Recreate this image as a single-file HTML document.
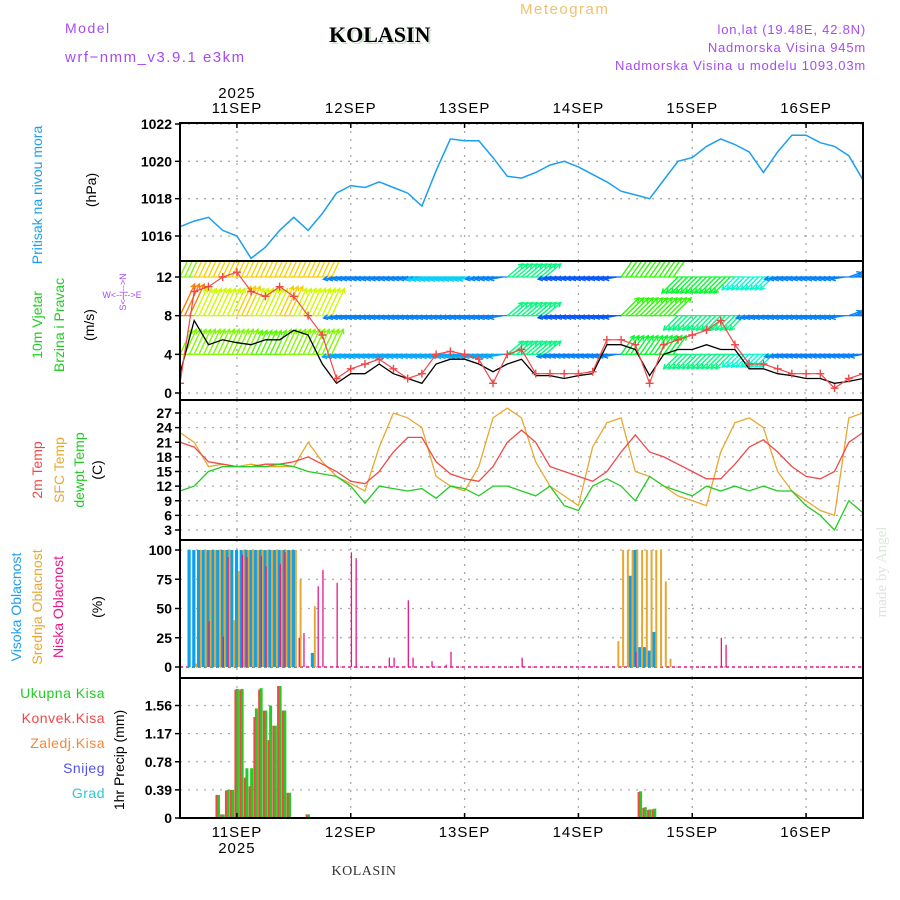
<!DOCTYPE html>
<html><head><meta charset="utf-8"><style>
body{margin:0;background:#fff}
svg{display:block}
text{font-family:"Liberation Sans",sans-serif}
text.serif{font-family:"Liberation Serif",serif}
</style></head><body>
<svg id="chart" width="900" height="900" viewBox="0 0 900 900" xmlns="http://www.w3.org/2000/svg">
<g>
<text x="65" y="33" fill="#a64bf4" font-size="14" letter-spacing="1.5">Model</text>
<text x="65" y="62" fill="#a64bf4" font-size="15" letter-spacing="1.5">wrf−nmm_v3.9.1 e3km</text>
<text class="serif" x="331" y="44" fill="#cfe0cf" font-size="22" font-weight="bold">KOLASIN</text>
<text class="serif" x="329" y="42" fill="#000" font-size="22" font-weight="bold">KOLASIN</text>
<text x="520" y="14" fill="#f0c070" font-size="15" letter-spacing="1.5">Meteogram</text>
<text x="866" y="34" fill="#a64bf4" font-size="13" text-anchor="end" letter-spacing="0.8">lon,lat (19.48E, 42.8N)</text>
<text x="866" y="52" fill="#a64bf4" font-size="13" text-anchor="end" letter-spacing="0.8">Nadmorska Visina 945m</text>
<text x="866" y="70" fill="#a64bf4" font-size="13" text-anchor="end" letter-spacing="0.8">Nadmorska Visina u modelu 1093.03m</text>
</g>
<g>
<text transform="translate(42,195) rotate(-90)" fill="#1a9ff0" font-size="14" text-anchor="middle">Pritisak na nivou mora</text>
<text transform="translate(96,190) rotate(-90)" fill="#000" font-size="14" text-anchor="middle">(hPa)</text>
<text transform="translate(42,325) rotate(-90)" fill="#22cc22" font-size="14" text-anchor="middle">10m Vjetar</text>
<text transform="translate(64,325) rotate(-90)" fill="#22cc22" font-size="14" text-anchor="middle">Brzina i Pravac</text>
<text transform="translate(94,325) rotate(-90)" fill="#000" font-size="14" text-anchor="middle">(m/s)</text>
<text transform="translate(126,292) rotate(-90)" fill="#a64bf4" font-size="9" text-anchor="middle">S&lt;--|--&gt;N</text>
<text x="122" y="298" fill="#a64bf4" font-size="9" text-anchor="middle">W&lt;--|--&gt;E</text>
<text transform="translate(42,470) rotate(-90)" fill="#f04848" font-size="14" text-anchor="middle">2m Temp</text>
<text transform="translate(64,470) rotate(-90)" fill="#e8a830" font-size="14" text-anchor="middle">SFC Temp</text>
<text transform="translate(84,470) rotate(-90)" fill="#22cc22" font-size="14" text-anchor="middle">dewpt Temp</text>
<text transform="translate(102,470) rotate(-90)" fill="#000" font-size="14" text-anchor="middle">(C)</text>
<text transform="translate(21,607) rotate(-90)" fill="#1a9ff0" font-size="14" text-anchor="middle">Visoka Oblacnost</text>
<text transform="translate(42,607) rotate(-90)" fill="#e8a830" font-size="14" text-anchor="middle">Srednja Oblacnost</text>
<text transform="translate(63,607) rotate(-90)" fill="#e8168a" font-size="14" text-anchor="middle">Niska Oblacnost</text>
<text transform="translate(102,607) rotate(-90)" fill="#000" font-size="14" text-anchor="middle">(%)</text>
<text x="105" y="698" fill="#22cc22" font-size="14" text-anchor="end" letter-spacing="0.5">Ukupna  Kisa</text>
<text x="105" y="723" fill="#f04848" font-size="14" text-anchor="end" letter-spacing="0.5">Konvek.Kisa</text>
<text x="105" y="748" fill="#f08838" font-size="14" text-anchor="end" letter-spacing="0.5">Zaledj.Kisa</text>
<text x="105" y="773" fill="#5050f0" font-size="14" text-anchor="end" letter-spacing="0.5">Snijeg</text>
<text x="105" y="798" fill="#30c8d0" font-size="14" text-anchor="end" letter-spacing="0.5">Grad</text>
<text transform="translate(124,760) rotate(-90)" fill="#000" font-size="14" text-anchor="middle">1hr Precip (mm)</text>
<text class="serif" transform="translate(886,572) rotate(-90)" fill="#dde5dd" font-size="15" text-anchor="middle">made by Angel</text>
<text class="serif" x="364" y="875" fill="#333" font-size="14" text-anchor="middle" letter-spacing="0.5">KOLASIN</text>
</g>
<g id="plots"></g>
</svg>
<script>
// ---------- data (3-hourly from 10SEP 12Z) ----------
const dayLabels = ["11SEP","12SEP","13SEP","14SEP","15SEP","16SEP"];
const pressure = [1016.5,1016.8,1017,1016.3,1016,1014.8,1015.4,1016.3,1017,1016.3,1017.2,1018.3,1018.7,1018.6,1018.9,1018.6,1018.3,1017.6,1019.5,1021.2,1021.1,1021.1,1020.2,1019.2,1019.1,1019.4,1019.8,1020,1019.7,1019.3,1018.9,1018.4,1018.2,1018,1019,1020,1020.2,1020.8,1021.2,1020.9,1020.5,1019.4,1020.5,1021.4,1021.4,1021,1020.8,1020.3,1019];
const windSpeed = [2,7.5,5,5.5,5.2,5,5.5,5.5,6.5,6,3,1,2,2,3,2,1.5,1,3,3.5,3.5,3,2.2,3,3.5,1.8,1.8,1.5,1.8,2,5,5,4.5,1.8,4,4.5,4.5,5,4.5,4.5,2.5,2.5,2,1.8,1.5,1.5,1,1.2,1.5];
const windGust = [1,10.5,11,12,12.5,10.5,10,11,10,8,6,1.5,2.5,3,3.5,2.5,1.5,2,4,4.3,4,3.5,1,4,4.5,2,2,2,2,2.2,5.5,5.5,5,1,5,5.5,6,6.5,7.5,5,3,3,2.5,2,2,2,0.5,1.5,2];
const dirL12 = [205,205,205,205,205,205,205,205,205,205,205,80,80,80,80,80,80,80,80,80,80,80,80,230,230,230,80,80,80,80,80,215,215,215,215,45,45,45,45,45,45,45,80,80,80,80,80,250,250];
const spdL12 = [9,11,11,11,11,11,11,11,11,11,11,3,3,3,3,3,3,4,4,4,4,3,3,6,6,6,2.5,2.5,2.5,2.5,2.5,8,8,8,8,7,7,7,7,5,5,5,3,3,3,3,3,3,3];
const dirL8 = [205,205,205,205,205,205,205,205,205,205,205,80,80,80,80,80,80,80,80,80,80,80,80,230,230,230,80,80,80,80,80,225,225,225,225,45,45,45,45,45,80,80,80,80,80,80,80,250,250];
const spdL8 = [12,10,10,10,11,10,10,11,10,10,10,3,3,3,3,3,3,3,3,3,3,3,3,6,6,6,2.5,2.5,2.5,2.5,2.5,8,8,8,8,6,6,6,6,6,3,3,3,3,3,3,3,3,3];
const dirL4 = [205,205,205,205,205,205,205,205,205,205,205,80,80,80,80,80,80,80,80,80,80,80,80,230,230,230,80,80,80,80,80,215,215,215,215,45,45,45,45,45,45,45,80,80,80,80,80,80,80];
const spdL4 = [9,9,9,9,9,8.5,8.5,9,9,9,9,3.5,3.5,3.5,3.5,3.5,3.5,3.5,3.5,3.5,3.5,3.5,3.5,6,6,6,3,3,3,3,3,7,7,7,7,6,6,6,6,5,5,5,3,3,3,3,3,3,3];
const temp2m = [21,20,17,16.5,16,16,16.5,16.5,17,18,16.5,15,13,12.5,15,19,22,22,17,14.5,13.5,13,16,21,23.5,21,16,15,14,13,15,19,22.5,19,18,16.5,15,13.5,13.5,16.5,20,21.5,19,16,14,13.5,15,21,23];
const tempSfc = [23,21,16,16.5,16,16.5,16,16,16,21,17,14,12.5,11,20,27,26,24,14,12,11,16,26,28,26,17,12,10,8,20,25,26,15,14,12,10,9,8,19,25,26,24,15,11,9,7,6,26,27];
const tempDew = [11,12,15,16,16,16,16,16.5,16,15,14.5,14,12,8.5,12,11.5,11,11.5,9.5,12,11.5,10,12,12,11,10,12,8,7,12,13.5,12,9,14,12,11,10,12,11,12,11,12,11,11,8,6,3,9,6.5];
// clouds & precip (hourly index from 10SEP 12Z)
const cloudHighHours = [2,3,4,5,6,7,8,9,10,11,12,13,14,15,16,17,18,19,20,21,22,23,24,28,95,96,97,98,99,100];
const cloudHighVals  = [100,100,100,100,100,100,100,100,100,100,100,100,100,100,100,100,100,100,100,100,100,100,100,12,78,100,17,17,14,30];
const cloudMidHours = [3,4,5,6,7,8,9,10,11,12,13,14,15,16,17,18,19,20,21,22,23,24,25,28,92,93,94,95,96,97,98,99,100,101,102,103];
const cloudMidVals  = [3,100,100,100,100,100,100,100,40,82,100,100,100,100,100,100,100,100,100,100,100,100,75,52,22,100,100,100,100,100,100,100,100,100,73,7];
const cloudLowHours = [6,9,10,13,14,17,18,21,22,25,26,29,30,33,36,37,44,45,48,49,53,56,57,72,96,114,115];
const cloudLowVals  = [39,26,94,96,94,95,86,88,98,25,29,69,83,72,98,93,8,8,57,8,5,2,13,8,13,25,19];
const precipHours = [8,9,10,11,12,13,14,15,16,17,18,19,20,21,22,23,27,97,98,99,100,114];
const precipTotal = [0.32,0.05,0.39,0.39,1.79,1.79,0.69,0.69,1.52,1.80,1.49,1.56,1.28,1.83,1.49,0.35,0.05,0.37,0.15,0.12,0.13,0.01];
const precipConv  = [0.32,0.05,0.38,0.39,1.78,1.78,0.56,0.44,1.40,1.78,1.49,1.08,1.28,1.83,1.49,0.35,0.05,0.36,0.14,0.11,0.12,0.01];
const pTicks = [1016,1018,1020,1022];
const wTicks = [0,4,8,12];
const tTicks = [3,6,9,12,15,18,21,24,27];
const cTicks = [0,25,50,75,100];
const rTicks = [0,0.39,0.78,1.17,1.56];

// ---------- geometry ----------
const X0=180, X1=863, DAY=(X1-X0)/6;
const NS="http://www.w3.org/2000/svg";
const root=document.getElementById('plots');
function el(tag,attrs,parent){const e=document.createElementNS(NS,tag);for(const k in attrs)e.setAttribute(k,attrs[k]);(parent||root).appendChild(e);return e;}
const xH=h=>X0+h*DAY/24;
const x3=i=>xH(i*3);
function lin(d0,d1,r0,r1){return v=>r0+(v-d0)*(r1-r0)/(d1-d0);}
const yP=lin(1016,1022,236,124);
const yW=lin(0,12,393,277);
const yT=lin(3,27,530,413);
const yC=lin(0,100,667,550);
const yR=lin(0,1.56,818,705.5);
const panels=[[123,261],[261,400],[400,540],[540,678],[678,818]];

function grid(g,ticks,yf,top,bot,fmt){
  ticks.forEach(t=>{
    const y=yf(t);
    const gl=el('line',{x1:X0,x2:X1,y1:y,y2:y,stroke:'#aaa','stroke-dasharray':'2,6','stroke-width':1.3},g);
    
    
    const tk=el('line',{x1:X0-5,x2:X0,y1:y,y2:y,stroke:'#000','stroke-width':1.5},g);
    
    
    const tx=el('text',{x:X0-8,y:y+5,'font-size':14,'font-weight':'bold','text-anchor':'end',fill:'#000'},g);
    tx.textContent=fmt?fmt(t):t;
    
    
  });
  for(let d=0;d<6;d++){
    const x=X0+(d+0.5)*DAY;
    const vl=el('line',{x1:x,x2:x,y1:top,y2:bot,stroke:'#aaa','stroke-dasharray':'2,6','stroke-width':1.3},g);
    
    
  }
}
function poly(g,vals,yf,color,name,w){
  const pts=vals.map((v,i)=>x3(i).toFixed(1)+','+yf(v).toFixed(1)).join(' ');
  const p=el('polyline',{points:pts,fill:'none',stroke:color,'stroke-width':w||1.3},g);
  
  
  return p;
}
function speedColor(s){let h=270-s*20;if(h<0)h+=360;return 'hsl('+h+',95%,50%)';}

// panel 1 pressure
const g1=el('g',{});


grid(g1,pTicks,yP,123,261);
poly(g1,pressure,yP,'#1a9ff0','pressure-line',1.5);

// panel 2 wind
const g2=el('g',{});


const clip=el('clipPath',{id:'wclip'},g2);
el('rect',{x:X0,y:262,width:X1-X0,height:137},clip);
grid(g2,wTicks,yW,261,400);
const wg=el('g',{'clip-path':'url(#wclip)'},g2);
function arrowRow(dirs,spds,base,name){
  dirs.forEach((d,i)=>{
    const s=spds[i];const to=(d+180)*Math.PI/180;
    const L=6+s*2.4;
    const c=speedColor(s);
    const y=yW(base);
    const dx=Math.sin(to)*L, dy=-Math.cos(to)*L;
    const ang=Math.atan2(dy,dx);
    const reps=i<dirs.length-1?3:1;
    for(let k=0;k<reps;k++){
      const x=x3(i)+k*DAY/24;
      const hx=x+dx,hy=y+dy;
      const hd=`M${x},${y}L${hx},${hy}M${hx-5*Math.cos(ang-0.5)},${hy-5*Math.sin(ang-0.5)}L${hx},${hy}L${hx-5*Math.cos(ang+0.5)},${hy-5*Math.sin(ang+0.5)}`;
      const a=el('path',{d:hd,stroke:c,'stroke-width':1.4,fill:'none'},wg);
      
      
    }
    if(i<dirs.length-1){
      const l=el('line',{x1:x3(i),y1:y,x2:x3(i+1),y2:y,stroke:c,'stroke-width':1.2},wg);
      
      
    }
  });
}
arrowRow(dirL4,spdL4,4,'wind-arrow-low');
arrowRow(dirL8,spdL8,8,'wind-arrow-mid');
arrowRow(dirL12,spdL12,12,'wind-arrow-high');
poly(wg,windSpeed,yW,'#000','wind-speed-line',1.3);
poly(wg,windGust,yW,'#f04848','wind-gust-line',1.2);
windGust.forEach((v,i)=>{
  const x=x3(i),y=yW(v);
  const m=el('path',{d:`M${x-4},${y}H${x+4}M${x},${y-4}V${y+4}`,stroke:'#f04848','stroke-width':1.4},wg);
  
  
});

// panel 3 temperature
const g3=el('g',{});


grid(g3,tTicks,yT,400,540);
poly(g3,tempSfc,yT,'#e8a830','sfc-temp-line');
poly(g3,temp2m,yT,'#f04848','temp-2m-line');
poly(g3,tempDew,yT,'#22cc22','dewpoint-line');

// panel 4 clouds
const g4=el('g',{});


grid(g4,cTicks,yC,540,678);
const base0=el('line',{x1:X0,x2:X1,y1:yC(0),y2:yC(0),stroke:'#e8168a','stroke-width':1.5,'stroke-dasharray':'3,3'},g4);


function bars(g,hours,vals,yf,color,off,w,name){
  hours.forEach((h,i)=>{
    const y=yf(vals[i]),y0=yf(0);
    const r=el('rect',{x:xH(h)+off,y:y,width:w,height:Math.max(0,y0-y),fill:color},g);
    
    
  });
}
bars(g4,cloudHighHours,cloudHighVals,yC,'#0aa0f0',-2,3.2,'cloud-high-bar');
bars(g4,cloudMidHours,cloudMidVals,yC,'#e8a830',1,2,'cloud-mid-bar');
bars(g4,cloudLowHours,cloudLowVals,yC,'#e8168a',0,1.3,'cloud-low-bar');

// panel 5 precip
const g5=el('g',{});


grid(g5,rTicks,yR,678,818,t=>t===0?'0':t.toFixed(2));
bars(g5,precipHours,precipTotal,yR,'#22cc22',-1,3,'precip-total-bar');
bars(g5,precipHours,precipConv,yR,'#f04848',-2.5,2,'precip-conv-bar');

// frames
panels.forEach((p,i)=>{
  const r=el('rect',{x:X0,y:p[0],width:X1-X0,height:p[1]-p[0],fill:'none',stroke:'#000','stroke-width':2});
  
  
});
// date labels
dayLabels.forEach((d,i)=>{
  const x=X0+(i+0.5)*DAY;
  const t=el('text',{x:x,y:113,'font-size':15,'text-anchor':'middle',fill:'#000','letter-spacing':1});
  t.textContent=d;
  
  
  const b=el('text',{x:x,y:837,'font-size':15,'text-anchor':'middle',fill:'#000','letter-spacing':1});
  b.textContent=d;
  
  
  [[123,128],[813,818]].forEach(([a,c])=>{
    const tk=el('line',{x1:x,x2:x,y1:a,y2:c,stroke:'#000','stroke-width':1.5});
    
    
  });
});
const y1=el('text',{x:X0+0.5*DAY,y:98,'font-size':15,'text-anchor':'middle',fill:'#000','letter-spacing':1});
y1.textContent='2025';


const y2=el('text',{x:X0+0.5*DAY,y:853,'font-size':15,'text-anchor':'middle',fill:'#000','letter-spacing':1});
y2.textContent='2025';


</script>
</body></html>
